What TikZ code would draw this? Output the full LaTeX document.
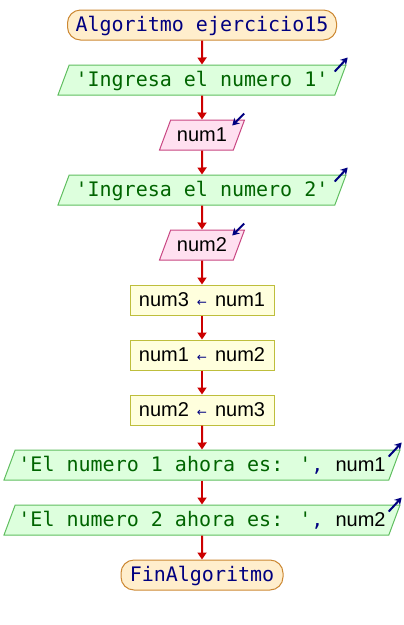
\documentclass[tikz,border=0pt]{standalone}
\usepackage{fontspec}
\newfontfamily\codefont{DejaVu Sans Mono}
\newfontfamily\varfont{Liberation Sans}
\newfontfamily\symfont{DejaVu Sans}
\usetikzlibrary{calc}
\usetikzlibrary{arrows.meta}
\usetikzlibrary{shapes.geometric}
\definecolor{flowred}{RGB}{204,0,0}
\definecolor{kwblue}{RGB}{0,0,128}
\definecolor{strgreen}{RGB}{0,100,0}
\definecolor{termfill}{RGB}{255,238,204}
\definecolor{termdraw}{RGB}{204,136,51}
\definecolor{outfill}{RGB}{221,255,221}
\definecolor{outdraw}{RGB}{96,190,96}
\definecolor{infill}{RGB}{255,224,240}
\definecolor{indraw}{RGB}{200,70,130}
\definecolor{asgfill}{RGB}{255,255,221}
\definecolor{asgdraw}{RGB}{190,190,60}
\newcommand{\strtxt}[1]{{\codefont\color{strgreen}#1}}
\newcommand{\vartxt}[1]{{\varfont\color{black}#1}}
\newcommand{\kwtxt}[1]{{\codefont\color{kwblue}#1}}
\newcommand{\getsym}{\hspace{8pt}{\symfont\fontsize{12}{12}\selectfont\color{kwblue}←}\hspace{8pt}}

\begin{document}
\begin{tikzpicture}[
     x=1pt,y=-1pt,
     every node/.style={font=\fontsize{20}{24}\selectfont,text height=17pt,text depth=4pt,
       inner xsep=2pt,minimum height=30pt},
     termbox/.style={rectangle,rounded corners=13pt,draw=termdraw,fill=termfill,line width=1pt},
     outbox/.style={trapezium,trapezium left angle=68,trapezium right angle=112,
       trapezium stretches body,draw=outdraw,fill=outfill,line width=1pt},
     inbox/.style={trapezium,trapezium left angle=68,trapezium right angle=112,
       trapezium stretches body,draw=indraw,fill=infill,line width=1pt,minimum width=85pt},
     asgbox/.style={rectangle,draw=asgdraw,fill=asgfill,line width=1pt,minimum width=144pt},
     flow/.style={draw=flowred,line width=2pt,-{Triangle[length=7pt,width=9pt]}},
     iomark/.style={draw=kwblue,line width=2pt,-{Stealth[length=7pt,width=8pt]}}
   ]
   \path[use as bounding box] (0,0) rectangle (404,625);
   % Steps.
   \node[termbox,minimum width=269pt] (start) at (202,25) {\kwtxt{Algoritmo ejercicio15}};
   \node[outbox,minimum width=288pt] (o1) at (202,80) {\strtxt{'Ingresa el numero 1'}};
   \node[inbox] (i1) at (202,135) {\vartxt{num1}};
   \node[outbox,minimum width=288pt] (o2) at (202,190) {\strtxt{'Ingresa el numero 2'}};
   \node[inbox] (i2) at (202,245) {\vartxt{num2}};
   \node[asgbox] (a1) at (202,300) {\vartxt{num3}\getsym\vartxt{num1}};
   \node[asgbox] (a2) at (202,355) {\vartxt{num1}\getsym\vartxt{num2}};
   \node[asgbox] (a3) at (202,410) {\vartxt{num2}\getsym\vartxt{num3}};
   \node[outbox,minimum width=396pt] (o3) at (202,465)
     {\strtxt{'El numero 1 ahora es: '}\kwtxt{, }\vartxt{num1}};
   \node[outbox,minimum width=396pt] (o4) at (202,520)
     {\strtxt{'El numero 2 ahora es: '}\kwtxt{, }\vartxt{num2}};
   \node[termbox,minimum width=162pt] (stop) at (202,575) {\kwtxt{FinAlgoritmo}};
   % Flow.
   \foreach \a/\b in {start/o1,o1/i1,i1/o2,o2/i2,i2/a1,a1/a2,a2/a3,a3/o3,o3/o4,o4/stop}
     \draw[flow] (\a.south) -- (\b.north);
   % In and out marks.
   \foreach \n in {o1,o2,o3,o4}
     \draw[iomark] ($(\n.top right corner)+(-12,7)$) -- ($(\n.top right corner)+(1,-7)$);
   \foreach \n in {i1,i2}
     \draw[iomark] ($(\n.top right corner)+(-1,-6)$) -- ($(\n.top right corner)+(-13,6)$);
 \end{tikzpicture}
\end{document}
